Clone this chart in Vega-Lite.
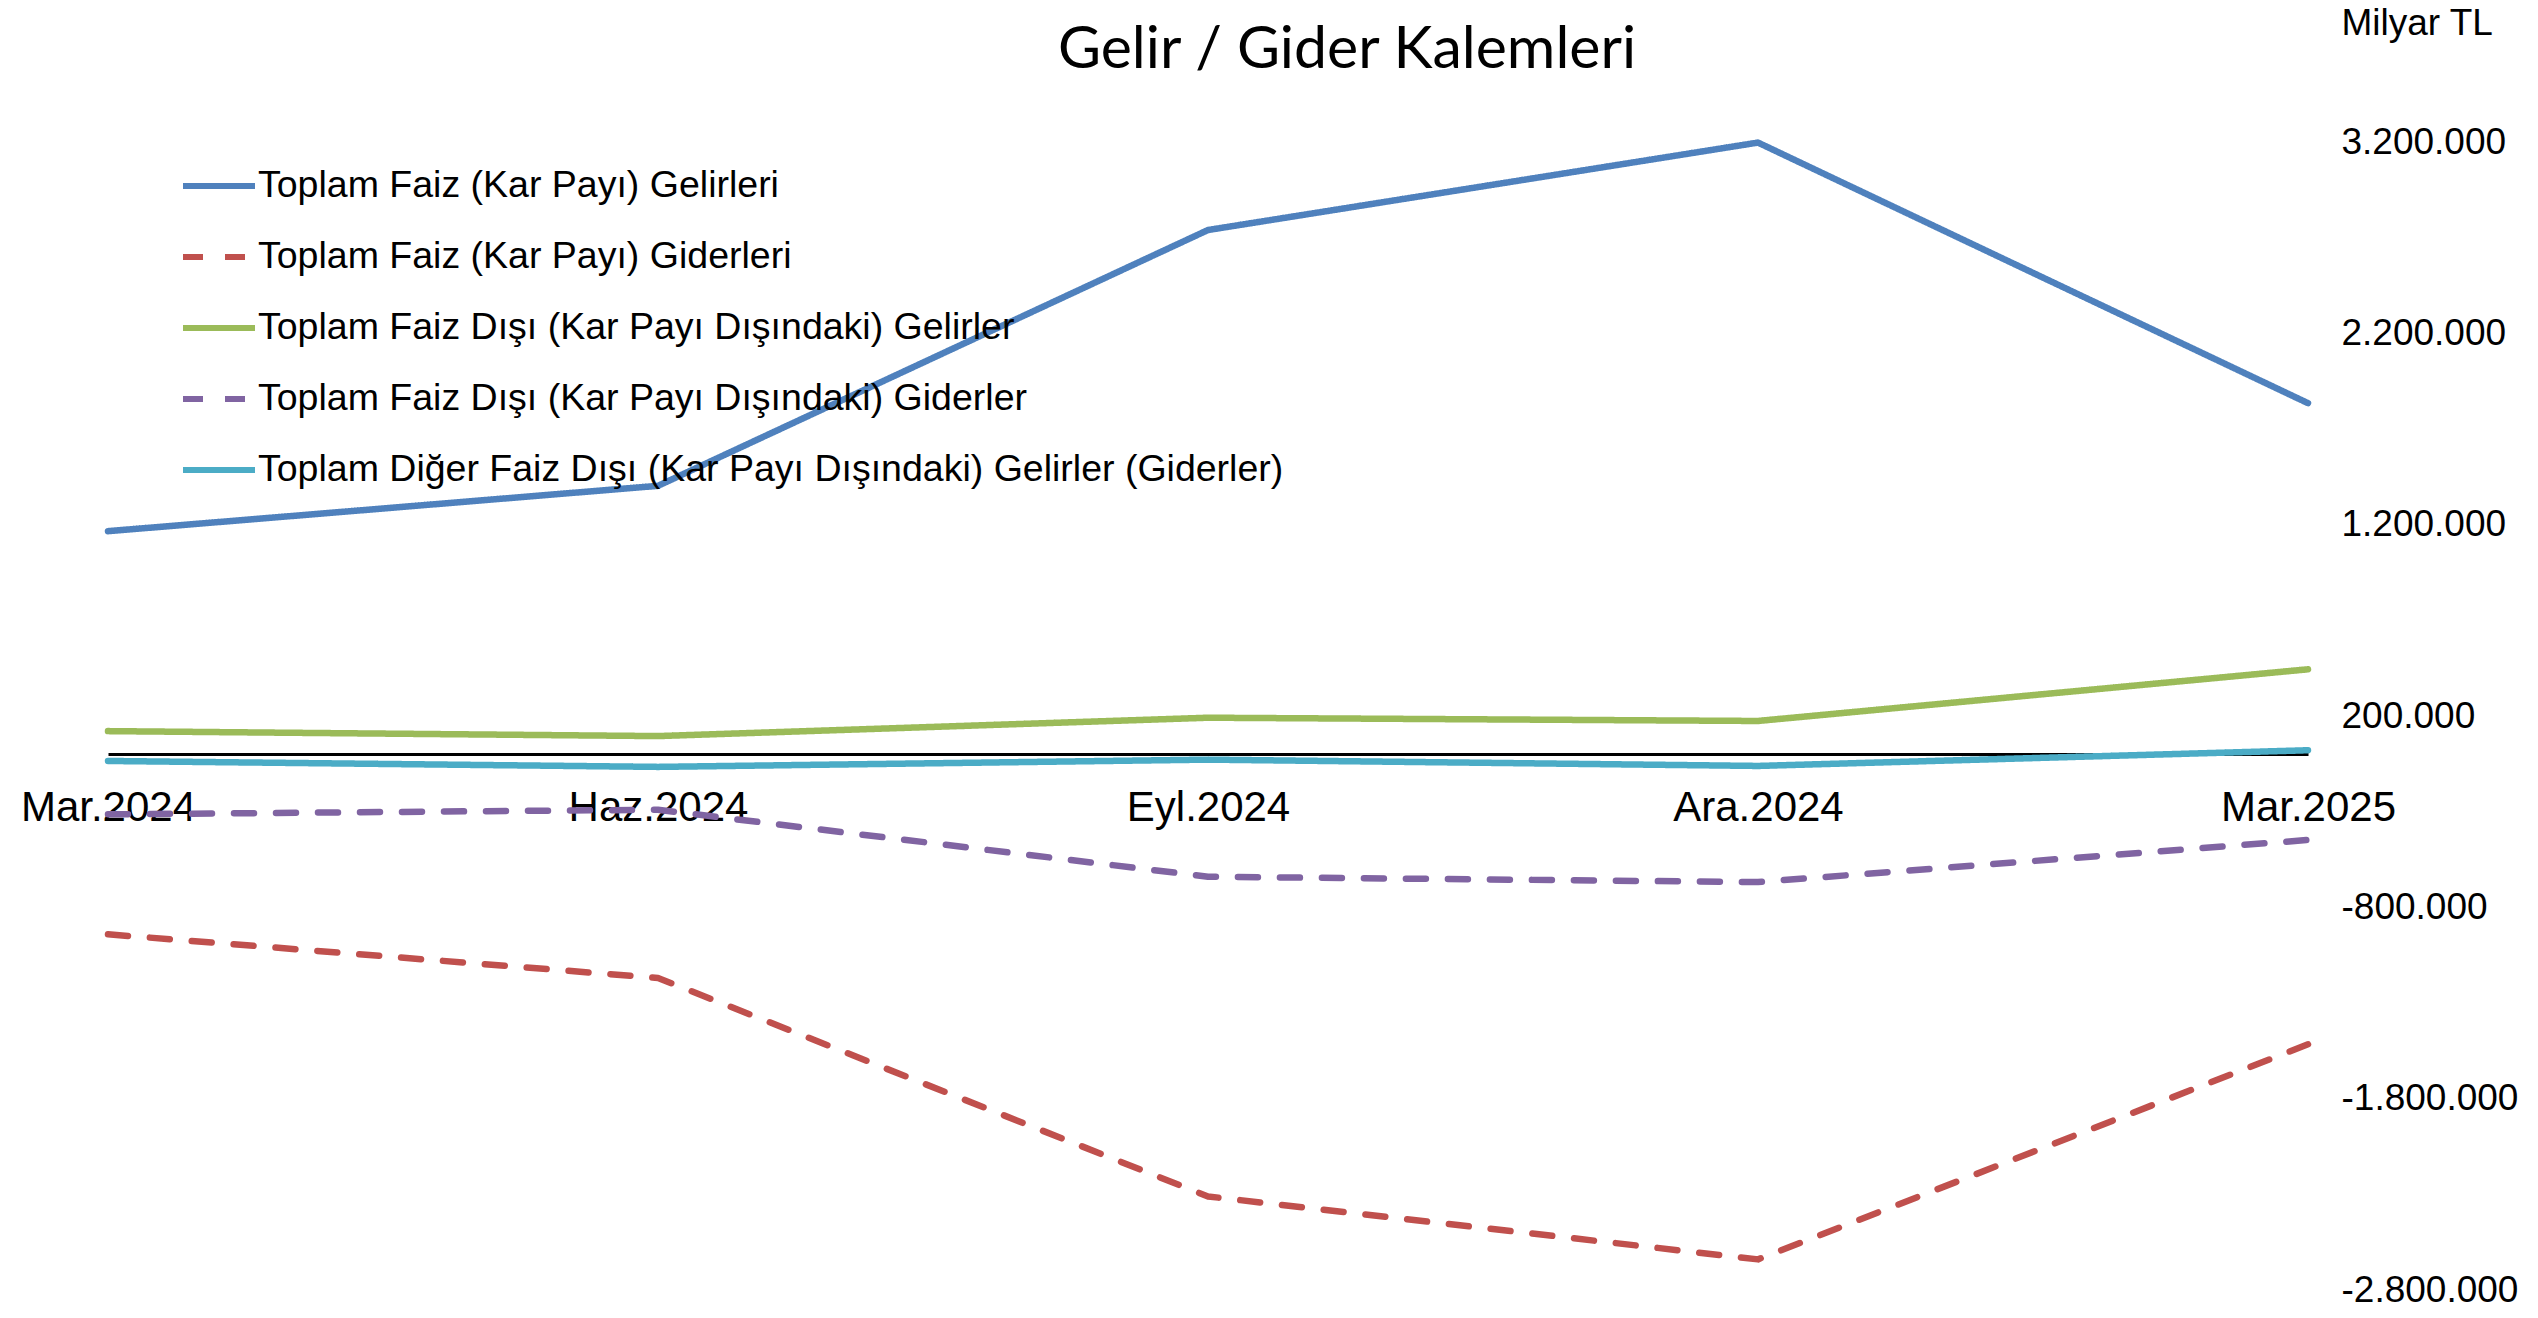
{
  "$schema": "https://vega.github.io/schema/vega-lite/v6.json",
  "autosize": "none",
  "width": 2200,
  "height": 1148,
  "padding": {"left": 108, "top": 142, "right": 230, "bottom": 28},
  "background": "white",
  "config": {
    "view": {"stroke": null},
    "locale": {"number": {"decimal": ",", "thousands": ".", "grouping": [3], "currency": ["", " TL"], "minus": "-"}},
    "legend": {
      "symbolType": "stroke",
      "symbolSize": 5184,
      "symbolStrokeWidth": 6,
      "labelFontSize": 37.5,
      "labelFont": "Liberation Sans",
      "labelColor": "black",
      "labelLimit": 0,
      "rowPadding": 13,
      "labelOffset": 0,
      "padding": 0
    }
  },
  "title": {
    "text": "Gelir / Gider Kalemleri",
    "font": "Lato",
    "fontSize": 59,
    "fontWeight": "normal",
    "color": "black",
    "anchor": "middle",
    "frame": "group",
    "baseline": "alphabetic",
    "dx": 139,
    "dy": 127
  },
  "data": {
    "values": [
      {"date": "Mar.2024", "series": "Toplam Faiz (Kar Payı) Gelirleri", "value": 1166000},
      {"date": "Haz.2024", "series": "Toplam Faiz (Kar Payı) Gelirleri", "value": 1403000},
      {"date": "Eyl.2024", "series": "Toplam Faiz (Kar Payı) Gelirleri", "value": 2740000},
      {"date": "Ara.2024", "series": "Toplam Faiz (Kar Payı) Gelirleri", "value": 3197000},
      {"date": "Mar.2025", "series": "Toplam Faiz (Kar Payı) Gelirleri", "value": 1835000},
      {"date": "Mar.2024", "series": "Toplam Faiz (Kar Payı) Giderleri", "value": -941000},
      {"date": "Haz.2024", "series": "Toplam Faiz (Kar Payı) Giderleri", "value": -1169000},
      {"date": "Eyl.2024", "series": "Toplam Faiz (Kar Payı) Giderleri", "value": -2311000},
      {"date": "Ara.2024", "series": "Toplam Faiz (Kar Payı) Giderleri", "value": -2640000},
      {"date": "Mar.2025", "series": "Toplam Faiz (Kar Payı) Giderleri", "value": -1516000},
      {"date": "Mar.2024", "series": "Toplam Faiz Dışı (Kar Payı Dışındaki) Gelirler", "value": 121000},
      {"date": "Haz.2024", "series": "Toplam Faiz Dışı (Kar Payı Dışındaki) Gelirler", "value": 95000},
      {"date": "Eyl.2024", "series": "Toplam Faiz Dışı (Kar Payı Dışındaki) Gelirler", "value": 191000},
      {"date": "Ara.2024", "series": "Toplam Faiz Dışı (Kar Payı Dışındaki) Gelirler", "value": 174000},
      {"date": "Mar.2025", "series": "Toplam Faiz Dışı (Kar Payı Dışındaki) Gelirler", "value": 444000},
      {"date": "Mar.2024", "series": "Toplam Faiz Dışı (Kar Payı Dışındaki) Giderler", "value": -314000},
      {"date": "Haz.2024", "series": "Toplam Faiz Dışı (Kar Payı Dışındaki) Giderler", "value": -290000},
      {"date": "Eyl.2024", "series": "Toplam Faiz Dışı (Kar Payı Dışındaki) Giderler", "value": -640000},
      {"date": "Ara.2024", "series": "Toplam Faiz Dışı (Kar Payı Dışındaki) Giderler", "value": -668000},
      {"date": "Mar.2025", "series": "Toplam Faiz Dışı (Kar Payı Dışındaki) Giderler", "value": -448000},
      {"date": "Mar.2024", "series": "Toplam Diğer Faiz Dışı (Kar Payı Dışındaki) Gelirler (Giderler)", "value": -35000},
      {"date": "Haz.2024", "series": "Toplam Diğer Faiz Dışı (Kar Payı Dışındaki) Gelirler (Giderler)", "value": -66000},
      {"date": "Eyl.2024", "series": "Toplam Diğer Faiz Dışı (Kar Payı Dışındaki) Gelirler (Giderler)", "value": -28000},
      {"date": "Ara.2024", "series": "Toplam Diğer Faiz Dışı (Kar Payı Dışındaki) Gelirler (Giderler)", "value": -61000},
      {"date": "Mar.2025", "series": "Toplam Diğer Faiz Dışı (Kar Payı Dışındaki) Gelirler (Giderler)", "value": 21000}
    ]
  },
  "mark": {"type": "line", "strokeWidth": 6.5, "strokeCap": "round", "strokeJoin": "round"},
  "encoding": {
    "x": {
      "field": "date",
      "type": "nominal",
      "sort": ["Mar.2024", "Haz.2024", "Eyl.2024", "Ara.2024", "Mar.2025"],
      "scale": {"type": "point", "padding": 0},
      "axis": {
        "title": null,
        "labelAngle": 0,
        "labelFontSize": 42,
        "labelFont": "Liberation Sans",
        "labelColor": "black",
        "domain": true,
        "domainColor": "black",
        "domainWidth": 3,
        "ticks": false,
        "grid": false,
        "offset": -536,
        "labelPadding": 33
      }
    },
    "y": {
      "field": "value",
      "type": "quantitative",
      "scale": {"domain": [-2800000, 3200000], "nice": false, "zero": false},
      "axis": {
        "orient": "right",
        "values": [-2800000, -1800000, -800000, 200000, 1200000, 2200000, 3200000],
        "format": ",d",
        "labelFontSize": 37,
        "labelFont": "Liberation Sans",
        "labelColor": "black",
        "labelLimit": 0,
        "domain": false,
        "ticks": false,
        "grid": false,
        "labelPadding": 33,
        "title": "Milyar TL",
        "titleAngle": 0,
        "titleAlign": "left",
        "titleBaseline": "alphabetic",
        "titleX": 33,
        "titleY": -108,
        "titleFontSize": 37,
        "titleFont": "Liberation Sans",
        "titleFontWeight": "normal",
        "titleColor": "black"
      }
    },
    "color": {
      "field": "series",
      "type": "nominal",
      "scale": {
        "domain": ["Toplam Faiz (Kar Payı) Gelirleri", "Toplam Faiz (Kar Payı) Giderleri", "Toplam Faiz Dışı (Kar Payı Dışındaki) Gelirler", "Toplam Faiz Dışı (Kar Payı Dışındaki) Giderler", "Toplam Diğer Faiz Dışı (Kar Payı Dışındaki) Gelirler (Giderler)"],
        "range": ["#4F81BD", "#C0504D", "#9BBB59", "#8064A2", "#4BACC6"]
      },
      "legend": {"orient": "none", "legendX": 72, "legendY": 5, "title": null}
    },
    "strokeDash": {
      "field": "series",
      "type": "nominal",
      "scale": {
        "domain": ["Toplam Faiz (Kar Payı) Gelirleri", "Toplam Faiz (Kar Payı) Giderleri", "Toplam Faiz Dışı (Kar Payı Dışındaki) Gelirler", "Toplam Faiz Dışı (Kar Payı Dışındaki) Giderler", "Toplam Diğer Faiz Dışı (Kar Payı Dışındaki) Gelirler (Giderler)"],
        "range": [[1, 0], [20, 22], [1, 0], [20, 22], [1, 0]]
      },
      "legend": {"orient": "none", "legendX": 72, "legendY": 5, "title": null}
    }
  }
}
